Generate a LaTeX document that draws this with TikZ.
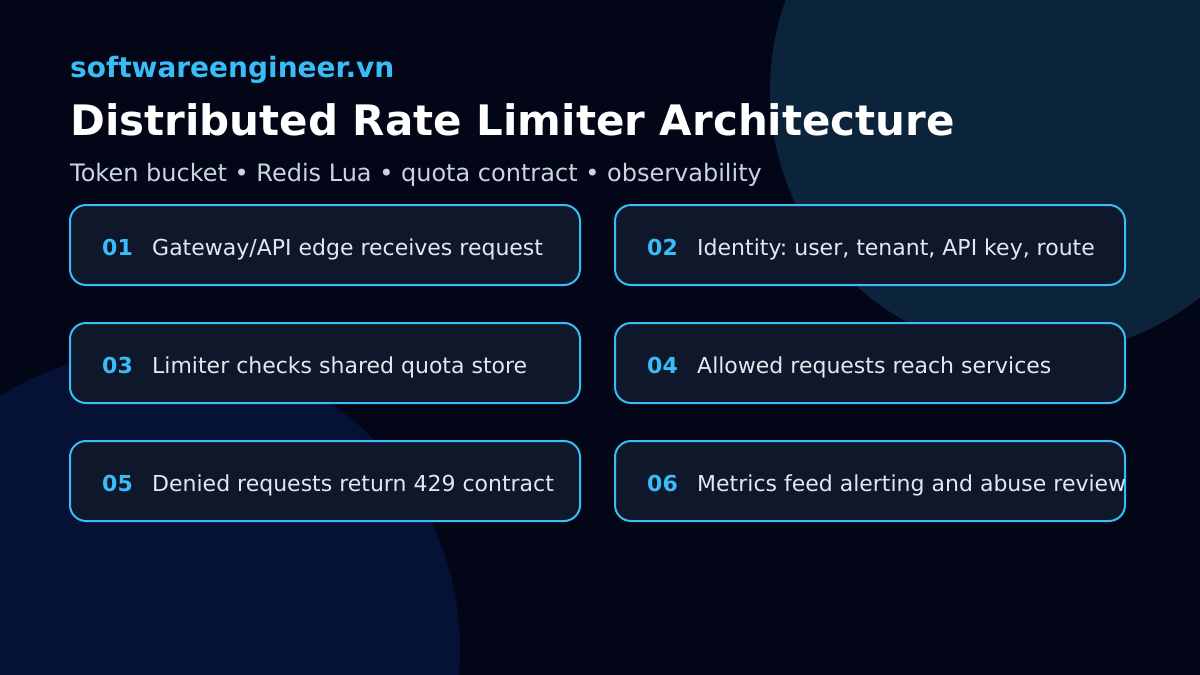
\documentclass[tikz,border=0pt]{standalone}
\usepackage{fontspec}
\setmainfont{DejaVu Sans}
\frenchspacing
\definecolor{bgc}{HTML}{020617}
\definecolor{circA}{HTML}{0C233C}
\definecolor{circB}{HTML}{051236}
\definecolor{cardfill}{HTML}{0F172A}
\definecolor{sky}{HTML}{38BDF8}
\definecolor{txt}{HTML}{E2E8F0}
\definecolor{subtxt}{HTML}{CBD5E1}
\tikzset{
  card/.style={draw=sky, line width=2pt, fill=cardfill, rounded corners=16pt},
  numtxt/.style={anchor=base west, inner sep=0pt, text=sky, font=\fontsize{22}{26}\selectfont\bfseries},
  cardtxt/.style={anchor=base west, inner sep=0pt, text=txt, font=\fontsize{22}{26}\selectfont},
}
\begin{document}
\begin{tikzpicture}[x=1pt,y=-1pt]
\useasboundingbox (0,0) rectangle (1200,675);
\fill[bgc] (0,0) rectangle (1200,675);
\begin{scope}
\clip (0,0) rectangle (1200,675);
\fill[circA] (1035,90) circle[radius=265];
\fill[circB] (160,650) circle[radius=300];
\end{scope}
\node[anchor=base west, inner sep=0pt, text=sky, font=\fontsize{28}{32}\selectfont\bfseries] (brand) at (70,77) {softwareengineer.vn};
\node[anchor=base west, inner sep=0pt, text=white, font=\fontsize{42}{48}\selectfont\bfseries] (title) at (70,135) {Distributed Rate Limiter Architecture};
\node[anchor=base west, inner sep=0pt, text=subtxt, font=\fontsize{24}{28}\selectfont] (sub) at (70,181) {Token bucket • Redis Lua • quota contract • observability};
\foreach \i/\x/\y/\t in {01/70/205/Gateway\slash API edge receives request,
                         02/615/205/{Identity: user, tenant, API key, route},
                         03/70/323/Limiter checks shared quota store,
                         04/615/323/Allowed requests reach services,
                         05/70/441/Denied requests return 429 contract,
                         06/615/441/Metrics feed alerting and abuse review}{
  \draw[card] (\x,\y) rectangle ++(510,80);
  \node[numtxt] (n\i) at (\x+32,\y+50) {\i};
  \node[cardtxt] (t\i) at (\x+82,\y+50) {\t};
}
\end{tikzpicture}
\end{document}
